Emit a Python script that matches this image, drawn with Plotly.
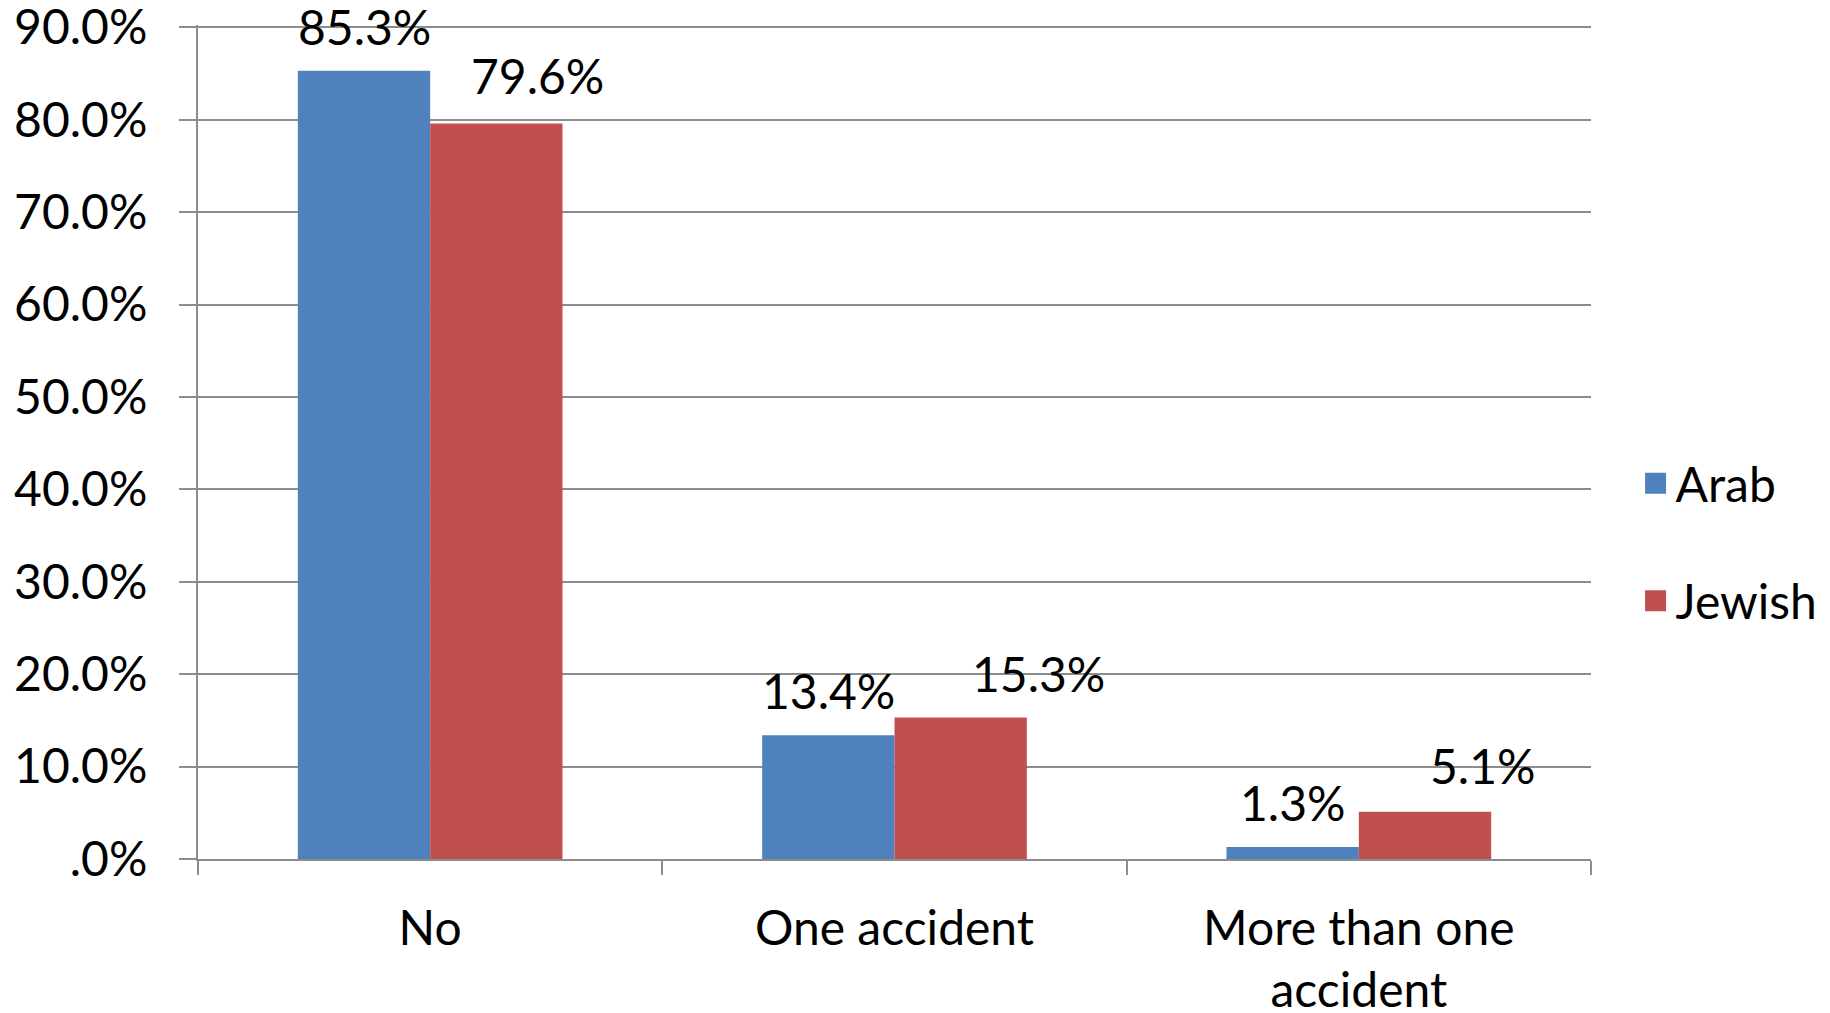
import plotly.graph_objects as go

categories = ["No", "One accident", "More than one<br>accident"]
arab = [0.853, 0.134, 0.013]
jewish = [0.796, 0.153, 0.051]
series_names = ["Arab", "Jewish"]
colors = ["#4F81BD", "#C0504D"]
ytick_vals = [0.0, 0.1, 0.2, 0.3, 0.4, 0.5, 0.6, 0.7, 0.8, 0.9]
ytick_text = [".0%", "10.0%", "20.0%", "30.0%", "40.0%", "50.0%", "60.0%", "70.0%", "80.0%", "90.0%"]

# label nudges (px) as placed in the original chart
label_xshift = [[0, 0, 0], [41, 78, 57]]
label_yshift = [[14, 14, 14], [17, 14, 16]]

FONT = "Lato"
FS = 48
BARGAP = 0.43

fig = go.Figure()
for name, vals, col in zip(series_names, [arab, jewish], colors):
    fig.add_trace(go.Bar(
        x=categories, y=vals, name=name, marker_color=col, marker_line_width=0,
        showlegend=False,
    ))
for name, col in zip(series_names, colors):
    fig.add_trace(go.Scatter(
        x=[None], y=[None], mode="markers", name=name,
        marker=dict(symbol="square", size=16, color=col, line=dict(color=col, width=6)),
        legendgroup=name, showlegend=True,
    ))

# data labels above each bar (positioned through the category axis)
half = (1 - BARGAP) / 4
for s, vals in enumerate([arab, jewish]):
    for i, v in enumerate(vals):
        fig.add_annotation(
            x=i + (-half if s == 0 else half), y=v, xref="x", yref="y",
            text=f"{v*100:.1f}%", showarrow=False, yanchor="bottom",
            xshift=label_xshift[s][i], yshift=label_yshift[s][i],
            font=dict(family=FONT, size=FS, color="black"),
        )

fig.update_layout(
    width=1830, height=1013,
    margin=dict(l=190, r=247, t=17, b=162),
    paper_bgcolor="white", plot_bgcolor="white",
    barmode="group", bargap=BARGAP, bargroupgap=0,
    font=dict(family=FONT, size=FS, color="black"),
    legend=dict(x=1.032, y=0.38, xanchor="left", yanchor="middle",
                font=dict(family=FONT, size=FS), tracegroupgap=52,
                itemwidth=30),
    xaxis=dict(
        automargin=False,
        showline=True, linecolor="#8c8c8c", linewidth=2,
        ticks="outside", tickson="boundaries", ticklen=14, tickcolor="#8c8c8c", tickwidth=2,
        tickfont=dict(family=FONT, size=FS), showgrid=False, ticklabelstandoff=26,
    ),
    yaxis=dict(
        automargin=False, ticklabeloverflow="allow",
        range=[0, 0.9025], tickvals=ytick_vals, ticktext=ytick_text,
        showline=True, linecolor="#8c8c8c", linewidth=2,
        ticks="outside", ticklen=17, tickcolor="#8c8c8c", tickwidth=2,
        showgrid=True, gridcolor="#8c8c8c", gridwidth=1.5,
        tickfont=dict(family=FONT, size=FS), zeroline=False, ticklabelstandoff=22,
    ),
)

fig.write_html("out.html")
